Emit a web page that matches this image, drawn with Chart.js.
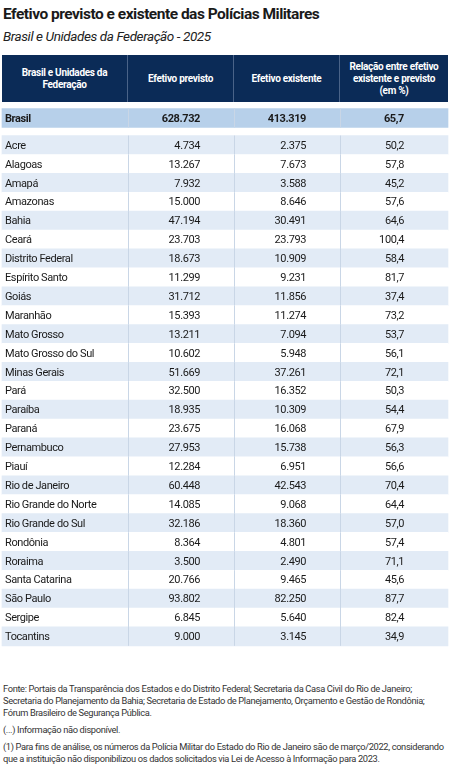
<!DOCTYPE html>
<html><head><meta charset="utf-8">
<script src="https://cdn.jsdelivr.net/npm/chart.js@4"></script>
<style>
body{margin:0;background:#fff;font-family:"Roboto",sans-serif;color:#222;width:451px;height:782px;overflow:hidden;position:relative}
#t{position:absolute;left:3px;top:5px;font-size:15.5px;font-weight:bold;color:#1a1a1a;letter-spacing:-0.5px}
#s{position:absolute;left:3px;top:28px;font-size:13.5px;font-style:italic;color:#222;letter-spacing:-0.4px}
#hd{position:absolute;left:2px;top:55px;width:446px;height:47px;background:#0b2b57;color:#fff;font-weight:bold;font-size:10px;letter-spacing:-0.3px;display:flex}
#hd div{display:flex;align-items:center;justify-content:center;text-align:center;line-height:12px;border-right:1px solid #4a6388;box-sizing:border-box}
#wrap{position:absolute;left:0;top:104px;width:451px;height:556px}
#ft{position:absolute;left:3px;top:683px;width:447px;font-size:9.3px;line-height:12px;color:#333;letter-spacing:-0.35px}
#ft p{margin:0 0 5px 0}
</style></head><body>
<div id="t">Efetivo previsto e existente das Polícias Militares</div>
<div id="s">Brasil e Unidades da Federação - 2025</div>
<div id="hd">
<div style="width:126px">Brasil e Unidades da<br>Federação</div>
<div style="width:106px">Efetivo previsto</div>
<div style="width:106px">Efetivo existente</div>
<div style="width:108px;border:none">Relação entre efetivo<br>existente e previsto<br>(em %)</div>
</div>
<div id="wrap"><canvas id="c" width="451" height="556"></canvas></div>
<div id="ft">
<p>Fonte: Portais da Transparência dos Estados e do Distrito Federal; Secretaria da Casa Civil do Rio de Janeiro; Secretaria do Planejamento da Bahia; Secretaria de Estado de Planejamento, Orçamento e Gestão de Rondônia; Fórum Brasileiro de Segurança Pública.</p>
<p>(...) Informação não disponível.</p>
<p>(1) Para fins de análise, os números da Polícia Militar do Estado do Rio de Janeiro são de março/2022, considerando que a instituição não disponibilizou os dados solicitados via Lei de Acesso à Informação para 2023.</p>
</div>
<script>
const states = ['Acre','Alagoas','Amapá','Amazonas','Bahia','Ceará','Distrito Federal','Espírito Santo','Goiás','Maranhão','Mato Grosso','Mato Grosso do Sul','Minas Gerais','Pará','Paraíba','Paraná','Pernambuco','Piauí','Rio de Janeiro','Rio Grande do Norte','Rio Grande do Sul','Rondônia','Roraima','Santa Catarina','São Paulo','Sergipe','Tocantins'];
const previsto = ['4.734','13.267','7.932','15.000','47.194','23.703','18.673','11.299','31.712','15.393','13.211','10.602','51.669','32.500','18.935','23.675','27.953','12.284','60.448','14.085','32.186','8.364','3.500','20.766','93.802','6.845','9.000'];
const existente = ['2.375','7.673','3.588','8.646','30.491','23.793','10.909','9.231','11.856','11.274','7.094','5.948','37.261','16.352','10.309','16.068','15.738','6.951','42.543','9.068','18.360','4.801','2.490','9.465','82.250','5.640','3.145'];
const relacao = ['50,2','57,8','45,2','57,6','64,6','100,4','58,4','81,7','37,4','73,2','53,7','56,1','72,1','50,3','54,4','67,9','56,3','56,6','70,4','64,4','57,0','57,4','71,1','45,6','87,7','82,4','34,9'];
const brasil = ['Brasil','628.732','413.319','65,7'];

const edges = [2,128,234,340,448];
const BRASIL_Y = -1.43;
const rows = [{y:BRASIL_Y, cells:brasil, bold:true, color:'#b7d0ea'}]
  .concat(states.map((s,i)=>({y:i, cells:[s,previsto[i],existente[i],relacao[i]], bold:false, color:i%2===0?'#e2ebf6':'#ffffff'})));

const textPlugin = {
  id:'cells',
  afterDatasetsDraw(chart){
    const {ctx, scales:{x,y}} = chart;
    ctx.save();
    ctx.strokeStyle = '#c9d6e6'; ctx.lineWidth = 1;
    [1,2,3].forEach(k=>{
      const px = Math.round(x.getPixelForValue(edges[k]))+0.5;
      rows.forEach(r=>{
        ctx.beginPath();
        ctx.moveTo(px, y.getPixelForValue(r.y-0.5)); ctx.lineTo(px, y.getPixelForValue(r.y+0.5)); ctx.stroke();
      });
    });
    ctx.textBaseline = 'middle'; ctx.fillStyle = '#1a1a1a';
    if ('letterSpacing' in ctx) ctx.letterSpacing = '-0.4px';
    const rightX = [0,200,306,404];
    rows.forEach(r=>{
      ctx.font = (r.bold?'bold ':'')+'11px Roboto, sans-serif';
      const py = y.getPixelForValue(r.y)+1;
      ctx.textAlign = 'left'; ctx.fillText(r.cells[0], x.getPixelForValue(5), py);
      ctx.textAlign = 'right';
      for(let k=1;k<4;k++) ctx.fillText(r.cells[k], x.getPixelForValue(rightX[k]), py);
    });
    ctx.restore();
  }
};

new Chart(document.getElementById('c'), {
  type:'bar',
  data:{datasets:[{
    data: rows.map(r=>({x:[edges[0],edges[4]], y:r.y})),
    backgroundColor: rows.map(r=>r.color),
    barThickness: 18.9, borderWidth:0
  }]},
  options:{
    indexAxis:'y', responsive:false, animation:false,
    layout:{padding:0},
    plugins:{legend:{display:false}, tooltip:{enabled:false}},
    scales:{
      x:{type:'linear', min:0, max:451, display:false, offset:false},
      y:{type:'linear', min:-2.17, max:27.25, reverse:true, display:false, offset:false}
    }
  },
  plugins:[textPlugin]
});
</script>
</body></html>
